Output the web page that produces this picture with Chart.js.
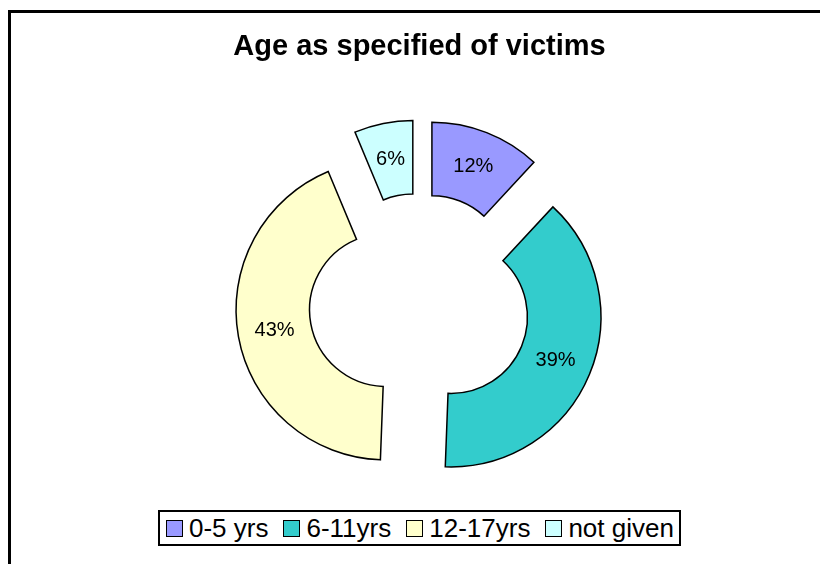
<!DOCTYPE html>
<html>
<head>
<meta charset="utf-8">
<script src="https://cdn.jsdelivr.net/npm/chart.js@4/dist/chart.umd.min.js"></script>
<style>
  html, body { margin: 0; padding: 0; background: #fff; }
  #wrap { position: relative; width: 820px; height: 564px; overflow: hidden; background: #fff; }
  #frame { position: absolute; left: 8px; top: 10px; width: 900px; height: 700px;
           border-left: 3px solid #000; border-top: 3px solid #000; box-sizing: border-box; }
  #chart { position: absolute; left: 0; top: 0; }
  #legend { position: absolute; left: 158px; top: 510px; width: 523px; height: 36px;
            border: 2px solid #000; box-sizing: border-box; background: #fff; padding-left: 6px;
            display: flex; align-items: center; justify-content: flex-start;
            font-family: "Liberation Sans", Arial, sans-serif; font-size: 26px; color: #000; white-space: nowrap; }
  #legend .item { display: flex; align-items: center; margin-right: 15px; }
  #legend .box { width: 17px; height: 17px; border: 1.5px solid #000; margin-right: 6px; box-sizing: border-box; }
</style>
</head>
<body>
<div id="wrap">
  <div id="frame"></div>
  <canvas id="chart" width="820" height="564"></canvas>
  <div id="legend"></div>
</div>
<script>
const titleText = 'Age as specified of victims';
const categories = ['0-5 yrs', '6-11yrs', '12-17yrs', 'not given'];
const shares = [11.9, 38.7, 43.1, 6.3];
const sliceColors = ['#9999FF', '#33CCCC', '#FFFFCC', '#CCFFFF'];

const EXPLODE = 34;

const explodePlugin = {
  id: 'explode',
  beforeDatasetDraw(chart, args) {
    const meta = args.meta;
    const ctx = chart.ctx;
    meta.data.forEach(arc => {
      const mid = (arc.startAngle + arc.endAngle) / 2;
      ctx.save();
      ctx.translate(Math.cos(mid) * EXPLODE, Math.sin(mid) * EXPLODE);
      arc.draw(ctx);
      ctx.restore();
    });
    return false;
  }
};

const labelPlugin = {
  id: 'sliceLabels',
  afterDatasetsDraw(chart) {
    const ctx = chart.ctx;
    const meta = chart.getDatasetMeta(0);
    const data = chart.data.datasets[0].data;
    const total = data.reduce((a, b) => a + b, 0);
    ctx.save();
    ctx.font = '20px "Liberation Sans", Arial, sans-serif';
    ctx.fillStyle = '#000';
    ctx.textAlign = 'center';
    ctx.textBaseline = 'middle';
    meta.data.forEach((arc, i) => {
      const mid = (arc.startAngle + arc.endAngle) / 2;
      const r = (arc.innerRadius + arc.outerRadius) / 2 + EXPLODE;
      const x = arc.x + Math.cos(mid) * r;
      const y = arc.y + Math.sin(mid) * r;
      ctx.fillText(Math.round(data[i] / total * 100) + '%', x, y);
    });
    ctx.restore();
  }
};

const chart = new Chart(document.getElementById('chart'), {
  type: 'doughnut',
  data: {
    labels: categories,
    datasets: [{
      data: shares,
      backgroundColor: sliceColors,
      borderColor: '#000',
      borderWidth: 1.5,
      borderJoinStyle: 'miter'
    }]
  },
  plugins: [explodePlugin, labelPlugin],
  options: {
    responsive: false,
    animation: false,
    radius: 150,
    cutout: '51%',
    layout: { padding: { left: 19, right: 0, top: 10, bottom: 30 } },
    plugins: {
      legend: { display: false },
      tooltip: { enabled: false },
      title: {
        display: true,
        text: titleText,
        color: '#000',
        font: { family: '"Liberation Sans", Arial, sans-serif', size: 29, weight: 'bold', lineHeight: 1.2 },
        padding: { top: 20, bottom: 9 }
      }
    }
  }
});

const legendEl = document.getElementById('legend');
categories.forEach((c, i) => {
  const item = document.createElement('span');
  item.className = 'item';
  const box = document.createElement('span');
  box.className = 'box';
  box.style.background = sliceColors[i];
  const txt = document.createElement('span');
  txt.textContent = c;
  item.appendChild(box);
  item.appendChild(txt);
  legendEl.appendChild(item);
});
</script>
</body>
</html>
